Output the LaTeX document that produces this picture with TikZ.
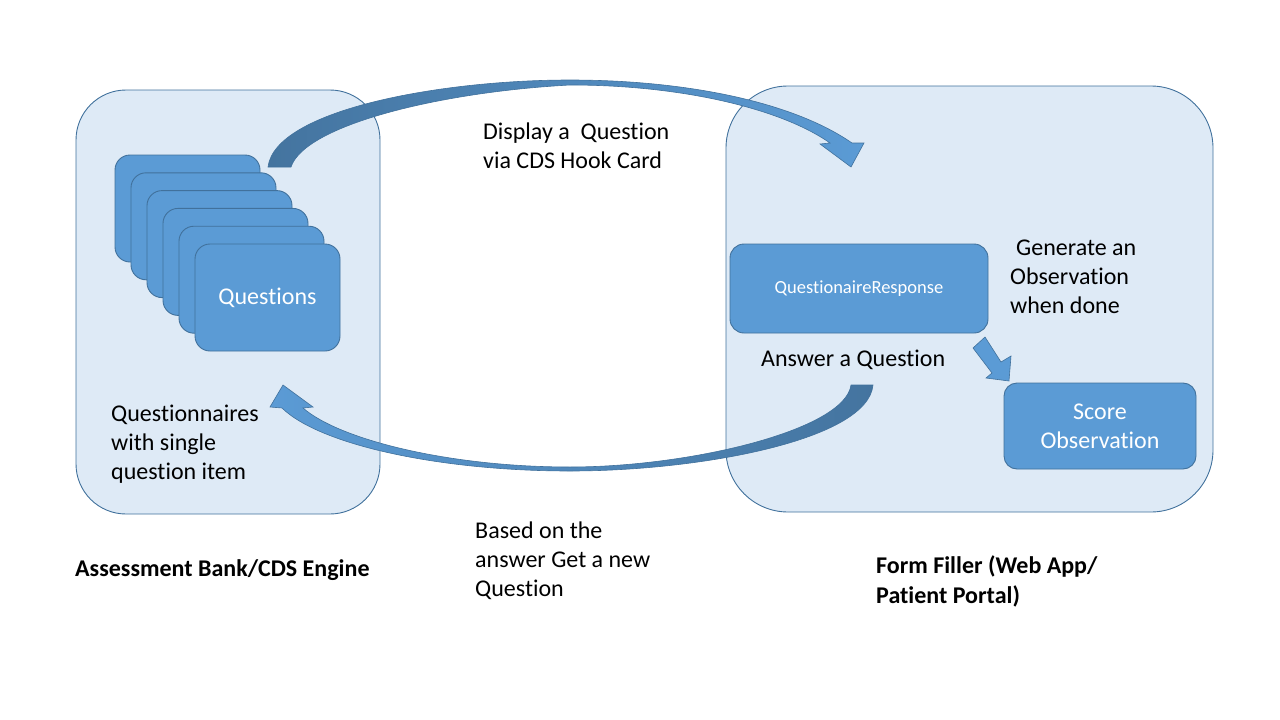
\documentclass[tikz,border=0pt]{standalone}
\usepackage{fontspec}
\setmainfont[Ligatures=NoCommon]{Carlito}
\definecolor{panelfill}{HTML}{DEEAF6}
\definecolor{edgeblue}{HTML}{41719C}
\definecolor{cardfill}{HTML}{5B9BD5}
\definecolor{arrdark}{HTML}{44749F}
\tikzset{
  panel/.style={draw=edgeblue, line width=0.9pt, fill=panelfill, inner sep=0pt},
  card/.style={draw=edgeblue, line width=0.9pt, fill=cardfill, inner sep=0pt, rounded corners=15pt, text=white, font=\fontsize{24}{29}\selectfont},
  txt/.style={anchor=west, align=left, inner sep=0pt, font=\fontsize{24}{29}\selectfont},
  boldtxt/.style={anchor=west, align=left, inner sep=0pt, font=\fontsize{24}{30}\selectfont\bfseries},
  blockarrow/.style={draw=edgeblue, line width=0.6pt}
}
\begin{document}
\begin{tikzpicture}[x=1pt,y=-1pt]
\useasboundingbox (0,0) rectangle (1280,720);
% panels
\node[panel, rounded corners=50pt, minimum width=304pt, minimum height=424pt] (bank) at (228,302) {};
\node[panel, rounded corners=62pt, minimum width=487pt, minimum height=426pt] (filler) at (969.5,299) {};
% top curved arrow
\path[blockarrow, left color=arrdark, right color=cardfill]
  (268,167) .. controls (275,110) and (440,80) .. (570,80)
  .. controls (680,80) and (790,100) .. (852,143)
  -- (864,143) -- (851,167) -- (820,144) -- (830,143)
  .. controls (780,108) and (680,85) .. (570,85)
  .. controls (440,92) and (305,125) .. (291,167) -- cycle;
% bottom curved arrow
\path[blockarrow, left color=cardfill, right color=arrdark]
  (873,385) .. controls (868,440) and (700,471) .. (570,471)
  .. controls (440,471) and (320,445) .. (282,408)
  -- (270,407) -- (283,385) -- (313,407) -- (303,408)
  .. controls (340,440) and (450,467) .. (570,467)
  .. controls (690,467) and (845,430) .. (851,385) -- cycle;
% stacked cards
\node[card, minimum width=145pt, minimum height=107pt] (c0) at (187.5,208.5) {};
\node[card, minimum width=145pt, minimum height=107pt] (c1) at (203.5,226.3) {};
\node[card, minimum width=145pt, minimum height=107pt] (c2) at (219.5,244.1) {};
\node[card, minimum width=145pt, minimum height=107pt] (c3) at (235.5,261.9) {};
\node[card, minimum width=145pt, minimum height=107pt] (c4) at (251.5,279.7) {};
\node[card, minimum width=145pt, minimum height=107pt] (c5) at (267.5,297.5) {\raisebox{-2pt}{Questions}};
% right boxes
\node[card, rounded corners=14pt, minimum width=258pt, minimum height=89pt, font=\fontsize{18.5}{22}\selectfont] (qr) at (859,288.5) {\raisebox{-2pt}{QuestionaireResponse}};
\node[card, rounded corners=13pt, minimum width=192pt, minimum height=86pt, align=center] (score) at (1100,426) {Score\\Observation};
% small arrow
\path[blockarrow, fill=cardfill]
  (973,348) -- (985,337) -- (1001,362) -- (1011,356) -- (1009,381) -- (986,378) -- (992,373) -- cycle;
% labels
\node[txt] (disp) at (483,146) {Display a\ \ Question\\via CDS Hook Card};
\node[txt] (qn) at (111,444) {Questionnaires\\with single\\question item};
\node[txt] (based) at (475,561) {Based on the\\answer Get a new\\Question};
\node[boldtxt] (bankl) at (75,570) {Assessment Bank/CDS Engine};
\node[boldtxt] (forml) at (876,581) {Form Filler (Web App/\\Patient Portal)};
\node[txt] (gen) at (1010,277) {\hspace*{6pt}Generate an\\Observation\\when done};
\node[txt] (ans) at (761,360) {Answer a Question};
\end{tikzpicture}
\end{document}
